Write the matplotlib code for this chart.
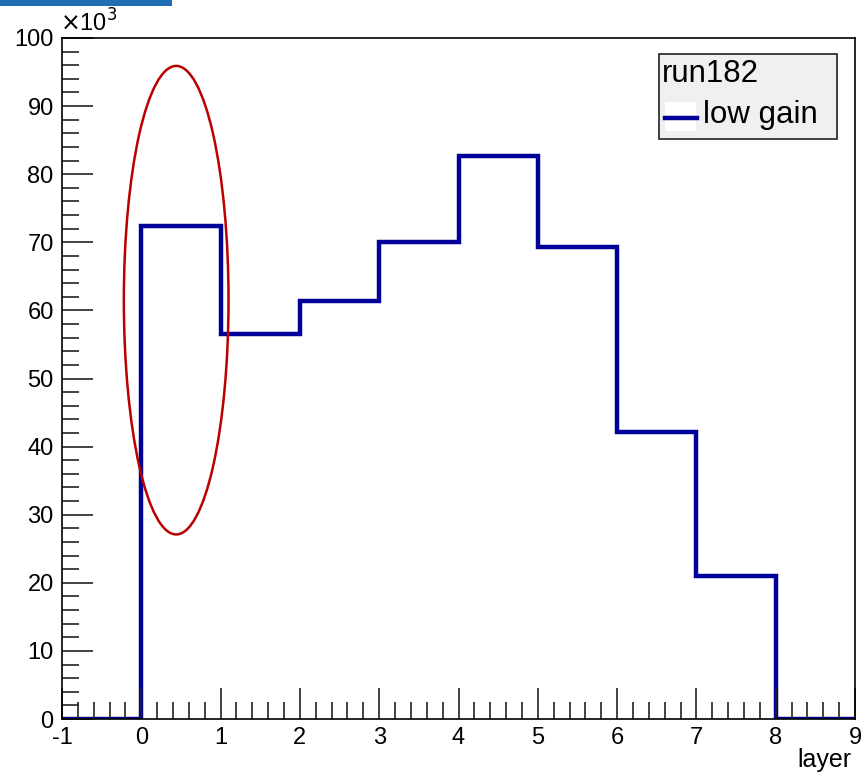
import matplotlib.pyplot as plt
import numpy as np
from matplotlib.patches import Ellipse, Rectangle
from matplotlib.ticker import MultipleLocator

plt.rcParams['font.family'] = ['Liberation Sans', 'DejaVu Sans']
plt.rcParams['axes.unicode_minus'] = False

# Data (counts in units of 10^3)
bin_edges = [-1, 0, 1, 2, 3, 4, 5, 6, 7, 8, 9]
counts = [0, 72.4, 56.5, 61.4, 70.1, 82.6, 69.3, 42.1, 21.0, 0]
series_label = "low gain"
run_label = "run182"

fig = plt.figure(figsize=(8.62, 7.76), dpi=100)
ax = fig.add_axes([62/862, 1 - 719/776, (855-62)/862, (719-38)/776])

line_col = '#000099'
ax.stairs(counts, bin_edges, color=line_col, linewidth=3.2, baseline=None)

ax.set_xlim(-1, 9)
ax.set_ylim(0, 100)
ax.xaxis.set_major_locator(MultipleLocator(1))
ax.xaxis.set_minor_locator(MultipleLocator(0.2))
ax.yaxis.set_major_locator(MultipleLocator(10))
ax.yaxis.set_minor_locator(MultipleLocator(2))
ax.tick_params(which='both', direction='in', top=False, right=False, width=1.2,
               labelsize=17, color='#222222')
ax.tick_params(which='major', length=22, pad=6)
ax.tick_params(which='minor', length=12)
for s in ax.spines.values():
    s.set_linewidth(1.2)

# red ellipse highlight
ax.add_patch(Ellipse((0.44, 61.5), 1.32, 68.8, fill=False, edgecolor='#bb0000', lw=1.8))

ax.text(-1.03, 100.2, r'$\times$10$^3$', fontsize=17, ha='left', va='bottom')
fig.text(852/862, 1 - 772/776, 'layer', ha='right', va='bottom', fontsize=18)

# legend box
fig.patches.append(Rectangle((659/862, 1 - 139/776), (837-659)/862, (139-54)/776,
                             transform=fig.transFigure, facecolor='#f0f0f0',
                             edgecolor='#222222', lw=1.2, zorder=5))
fig.patches.append(Rectangle((665/862, 1 - 131/776), 31/862, 29/776,
                             transform=fig.transFigure, facecolor='white',
                             edgecolor='none', zorder=6))
fig.text(662/862, 1 - 74/776, run_label, fontsize=22.5, va='center', ha='left', zorder=7)
fig.add_artist(plt.Line2D([665/862, 697/862], [1 - 118/776, 1 - 118/776],
                          color=line_col, lw=3.2, zorder=7, transform=fig.transFigure))
fig.text(703/862, 1 - 115/776, series_label, fontsize=22.5, va='center', ha='left', zorder=7)

# blue strip at the top (screenshot edge)
fig.patches.append(Rectangle((0, 1 - 6/776), 172/862, 6/776, transform=fig.transFigure,
                             facecolor='#1f6db3', edgecolor='none'))

fig.savefig('out.png', dpi=100)
